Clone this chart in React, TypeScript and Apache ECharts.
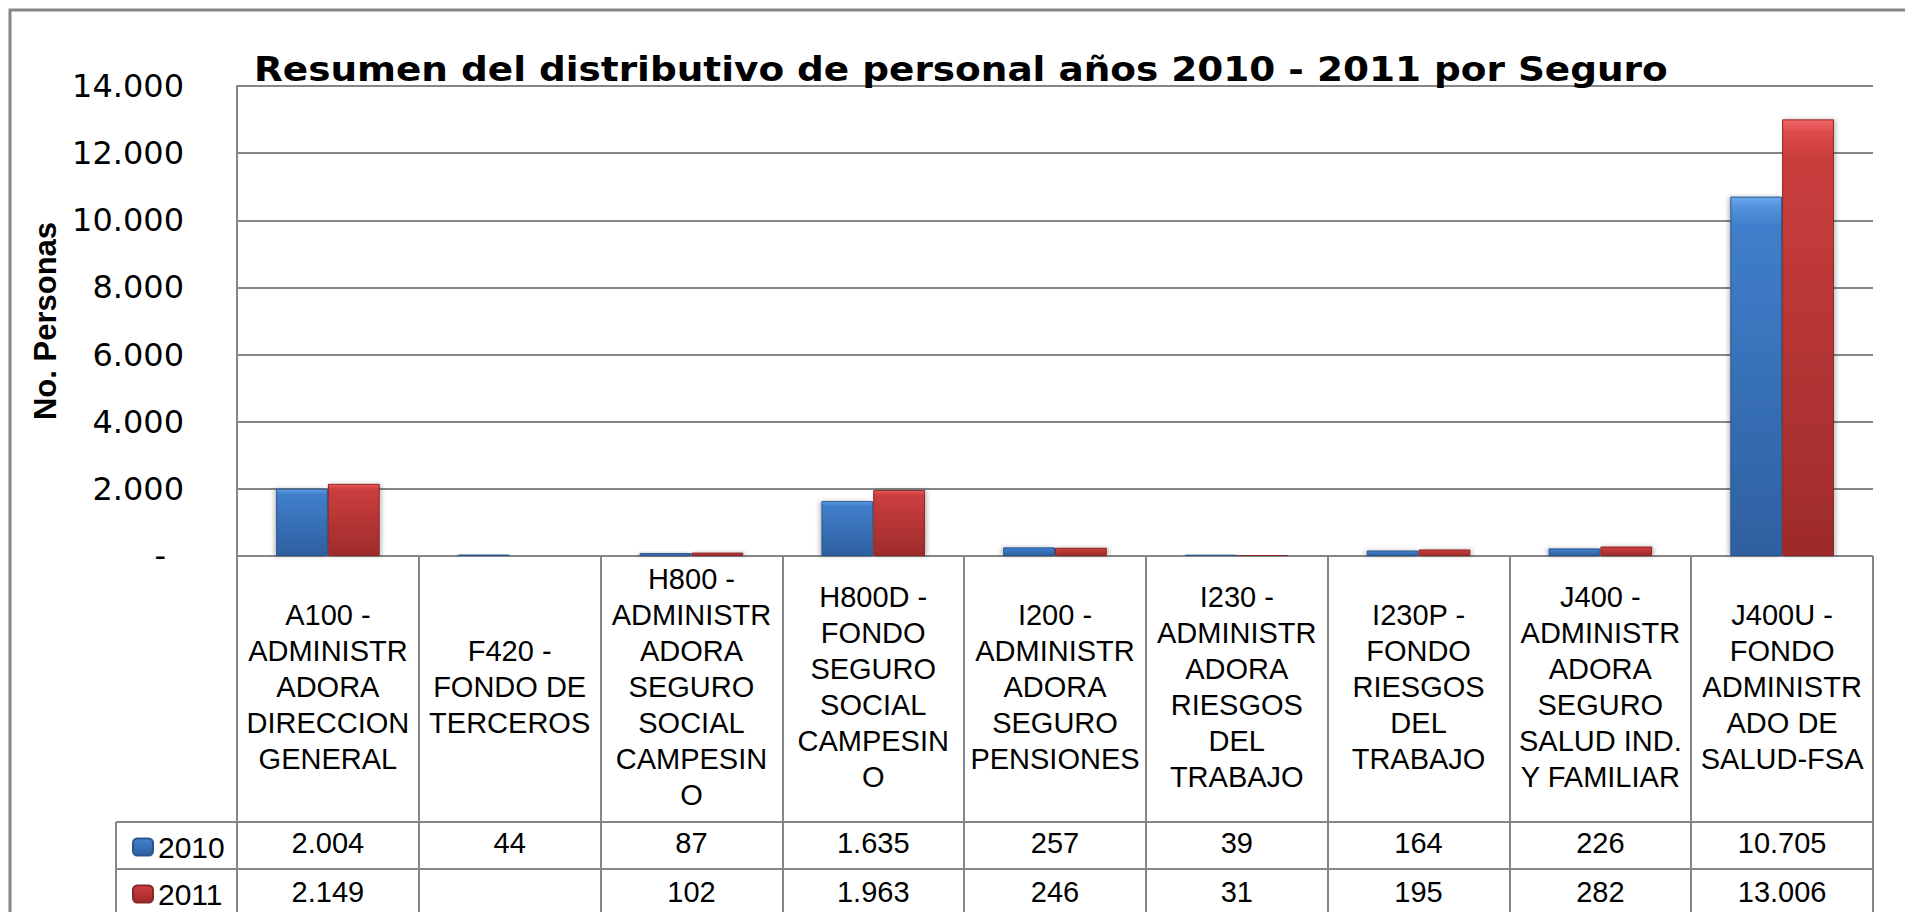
import React, { useEffect, useRef } from "react";
import * as echarts from "echarts";

const categories = ["A100", "F420", "H800", "H800D", "I200", "I230", "I230P", "J400", "J400U"];
const categoryLabels = [
  "A100 -\nADMINISTR\nADORA\nDIRECCION\nGENERAL",
  "F420 -\nFONDO DE\nTERCEROS",
  "H800 -\nADMINISTR\nADORA\nSEGURO\nSOCIAL\nCAMPESIN\nO",
  "H800D -\nFONDO\nSEGURO\nSOCIAL\nCAMPESIN\nO",
  "I200 -\nADMINISTR\nADORA\nSEGURO\nPENSIONES",
  "I230 -\nADMINISTR\nADORA\nRIESGOS\nDEL\nTRABAJO",
  "I230P -\nFONDO\nRIESGOS\nDEL\nTRABAJO",
  "J400 -\nADMINISTR\nADORA\nSEGURO\nSALUD IND.\nY FAMILIAR",
  "J400U -\nFONDO\nADMINISTR\nADO DE\nSALUD-FSA",
];
const values2010 = [2004, 44, 87, 1635, 257, 39, 164, 226, 10705];
const values2011: (number | null)[] = [2149, null, 102, 1963, 246, 31, 195, 282, 13006];
const seriesNames = ["2010", "2011"];
const yTicks = { min: 0, max: 14000, interval: 2000 };
const titleText = "Resumen del distributivo de personal años 2010 - 2011 por Seguro";
const yAxisName = "No. Personas";

const fmt = (n: number | null) =>
  n === null || n === undefined ? "" : String(n).replace(/\B(?=(\d{3})+(?!\d))/g, ".");

const GRID_LEFT = 237;
const GRID_RIGHT_X = 1873;
const GRID_TOP = 86;
const ZERO_Y = 556;
const H = 912;
const W = 1905;
const ROW1_Y = 822;
const ROW2_Y = 869;
const GRAY = "#868686";

const blue = new echarts.graphic.LinearGradient(0, 0, 0, 1, [
  { offset: 0, color: "#6FA8EE" },
  { offset: 0.03, color: "#5191DC" },
  { offset: 0.08, color: "#407ECB" },
  { offset: 1, color: "#2E60A0" },
]);
const red = new echarts.graphic.LinearGradient(0, 0, 0, 1, [
  { offset: 0, color: "#F26A6A" },
  { offset: 0.03, color: "#DC4A4A" },
  { offset: 0.08, color: "#CB3E3E" },
  { offset: 1, color: "#9E2B2B" },
]);

export default function App() {
  const ref = useRef<HTMLDivElement>(null);
  useEffect(() => {
    if (!ref.current) return;
    const chart = echarts.init(ref.current, null, { renderer: "svg" });
    const labelFont = "'Liberation Sans', Arial, sans-serif";
    const legendCommon = {
      orient: "horizontal",
      left: 127,
      itemWidth: 20,
      itemHeight: 17,
      selectedMode: false,
      textStyle: { fontFamily: labelFont, fontSize: 30, lineHeight: 34, color: "#000" },
    };
    chart.setOption({
      animation: false,
      backgroundColor: "#ffffff",
      legend: [
        { ...legendCommon, data: [seriesNames[0]], top: ROW1_Y + 3 },
        { ...legendCommon, data: [seriesNames[1]], top: ROW2_Y + 3 },
      ],
      grid: {
        left: GRID_LEFT,
        right: W - GRID_RIGHT_X,
        top: GRID_TOP,
        bottom: H - ZERO_Y,
        containLabel: false,
      },
      xAxis: [
        {
          type: "category",
          data: categories,
          position: "bottom",
          axisLine: { show: false },
          axisTick: {
            show: true,
            interval: 0,
            length: H - ZERO_Y,
            lineStyle: { color: GRAY, width: 2 },
          },
          axisLabel: {
            interval: 0,
            margin: (ROW1_Y - ZERO_Y) / 2 - 2,
            verticalAlign: "middle",
            fontFamily: labelFont,
            fontSize: 29,
            lineHeight: 36,
            color: "#000",
            formatter: (_v: string, i: number) => categoryLabels[i],
          },
        },
        {
          type: "category",
          data: categories,
          position: "bottom",
          offset: ROW1_Y - ZERO_Y,
          axisLine: { show: false },
          axisTick: { show: false },
          axisLabel: {
            interval: 0,
            margin: 21,
            verticalAlign: "middle",
            fontFamily: labelFont,
            fontSize: 29,
            color: "#000",
            formatter: (_v: string, i: number) => fmt(values2010[i]),
          },
        },
        {
          type: "category",
          data: categories,
          position: "bottom",
          offset: ROW2_Y - ZERO_Y,
          axisLine: { show: false },
          axisTick: { show: false },
          axisLabel: {
            interval: 0,
            margin: 23,
            verticalAlign: "middle",
            fontFamily: labelFont,
            fontSize: 29,
            color: "#000",
            formatter: (_v: string, i: number) => fmt(values2011[i]),
          },
        },
      ],
      yAxis: {
        type: "value",
        min: yTicks.min,
        max: yTicks.max,
        interval: yTicks.interval,
        name: yAxisName,
        nameLocation: "middle",
        nameRotate: 90,
        nameGap: 176,
        nameTextStyle: {
          fontFamily: "'Liberation Sans', Arial, sans-serif",
          fontWeight: "bold",
          fontSize: 31,
          color: "#000",
        },
        axisLine: { show: true, lineStyle: { color: GRAY, width: 2 } },
        axisTick: { show: false },
        splitLine: { show: true, lineStyle: { color: GRAY, width: 2 } },
        axisLabel: {
          margin: 53,
          fontFamily: "'DejaVu Sans', sans-serif",
          fontSize: 32,
          color: "#000",
          formatter: (v: number) => (v === 0 ? "{d|-}" : fmt(v)),
          rich: { d: { fontFamily: "'DejaVu Sans', sans-serif", fontSize: 32, padding: [0, 18, 0, 0] } },
        },
      },
      series: [
        {
          name: seriesNames[0],
          type: "bar",
          data: values2010,
          barGap: "0%",
          barCategoryGap: "43%",
          itemStyle: {
            color: blue,
            borderColor: "#2A568F",
            borderWidth: 1,
            shadowColor: "rgba(0,0,0,0.25)",
            shadowBlur: 4,
            shadowOffsetX: -2,
          },
        },
        {
          name: seriesNames[1],
          type: "bar",
          data: values2011,
          barGap: "0%",
          barCategoryGap: "43%",
          itemStyle: {
            color: red,
            borderColor: "#8A2626",
            borderWidth: 1,
            shadowColor: "rgba(0,0,0,0.25)",
            shadowBlur: 4,
            shadowOffsetX: 2,
          },
        },
      ],
      graphic: [
        {
          type: "rect",
          shape: { x: 10, y: 10, width: W + 20, height: H + 20 },
          style: { fill: "none", stroke: GRAY, lineWidth: 3 },
          silent: true,
        },
        {
          type: "line",
          shape: { x1: 116, y1: ROW1_Y, x2: GRID_RIGHT_X, y2: ROW1_Y },
          style: { stroke: GRAY, lineWidth: 2 },
          silent: true,
        },
        {
          type: "line",
          shape: { x1: 116, y1: ROW2_Y, x2: GRID_RIGHT_X, y2: ROW2_Y },
          style: { stroke: GRAY, lineWidth: 2 },
          silent: true,
        },
        {
          type: "line",
          shape: { x1: 116, y1: ROW1_Y, x2: 116, y2: H },
          style: { stroke: GRAY, lineWidth: 2 },
          silent: true,
        },
        {
          type: "text",
          x: 254,
          y: 69,
          scaleX: 1.1,
          z: 100,
          style: {
            text: titleText,
            fontFamily: "'DejaVu Sans', sans-serif",
            fontWeight: "bold",
            fontSize: 34,
            fill: "#000",
            align: "left",
            verticalAlign: "middle",
          },
        },
      ],
    });
    return () => chart.dispose();
  }, []);
  return (
    <div
      ref={ref}
      style={{ position: "fixed", left: 0, top: 0, width: 1905, height: 912, background: "#fff" }}
    />
  );
}
